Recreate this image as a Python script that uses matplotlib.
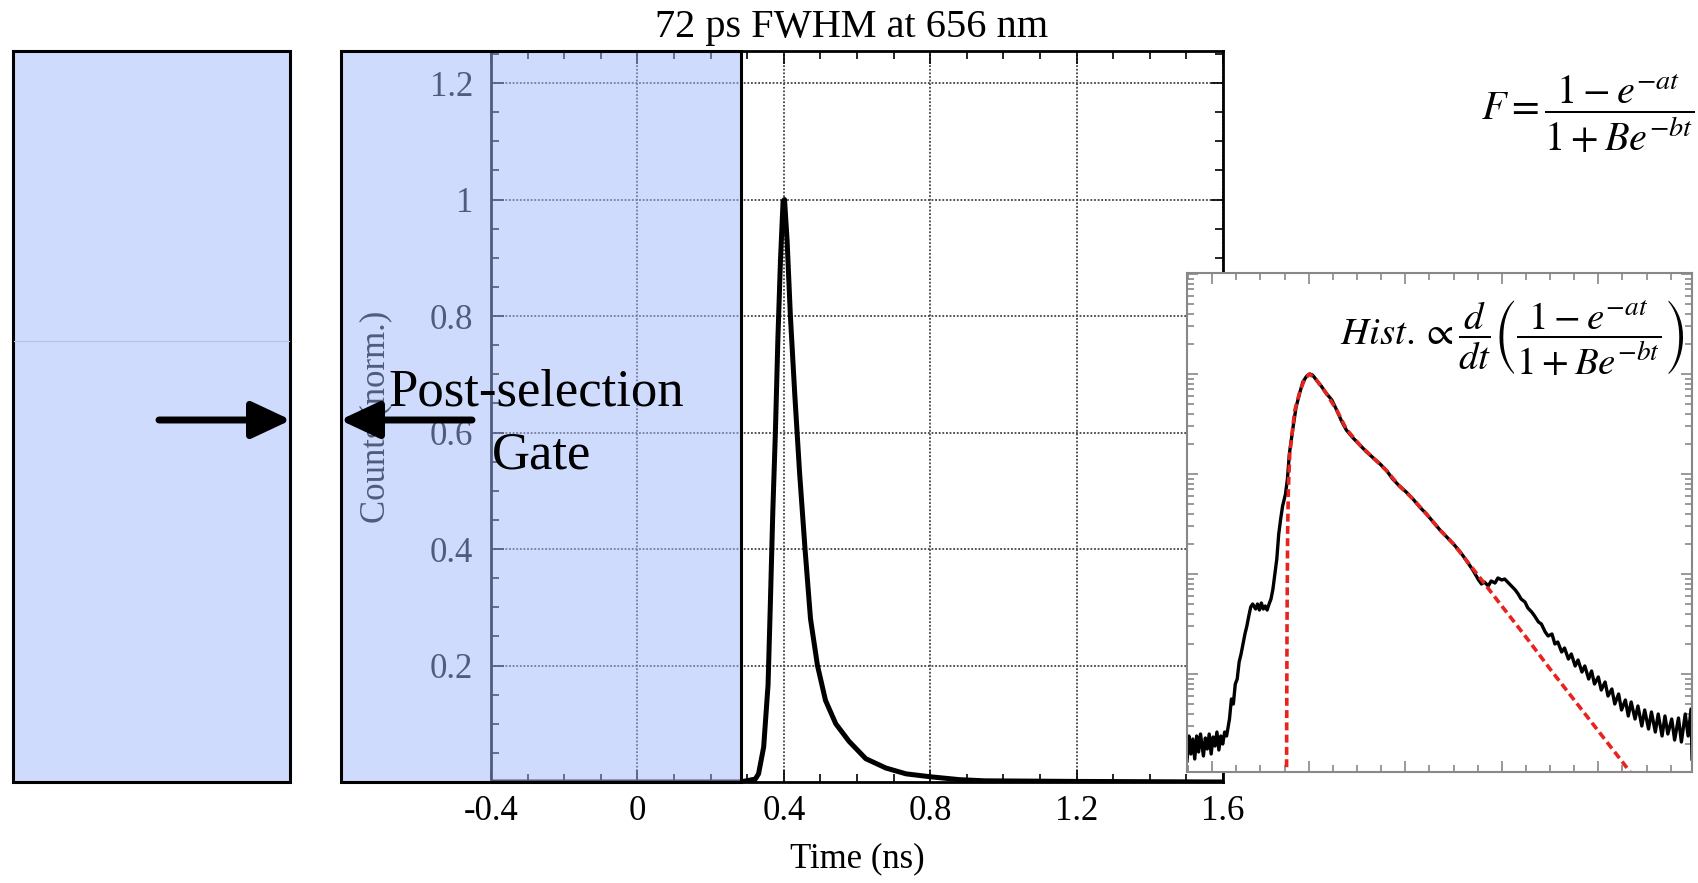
import numpy as np
import matplotlib
matplotlib.use('Agg')
import matplotlib.pyplot as plt
from matplotlib.patches import Rectangle, FancyArrowPatch
from matplotlib.lines import Line2D
from matplotlib.ticker import MultipleLocator, LogLocator, NullFormatter

plt.rcParams['font.family'] = 'serif'
plt.rcParams['font.serif'] = ['Liberation Serif', 'DejaVu Serif']
plt.rcParams['mathtext.fontset'] = 'stix'

# main trace: time (ns) vs normalised counts
main_t = [-0.4, 0.281, 0.322, 0.331, 0.345, 0.357, 0.363, 0.370, 0.377, 0.384,
          0.391, 0.398, 0.402, 0.409, 0.418, 0.430, 0.443, 0.458, 0.473, 0.492,
          0.514, 0.542, 0.578, 0.624, 0.679, 0.734, 0.800, 0.880, 0.950, 1.2, 1.6]
main_y = [0.0, 0.0, 0.005, 0.014, 0.06, 0.167, 0.30, 0.465, 0.60, 0.764,
          0.897, 0.997, 1.0, 0.93, 0.80, 0.665, 0.532, 0.40, 0.28, 0.20,
          0.14, 0.10, 0.07, 0.04, 0.024, 0.014, 0.009, 0.004, 0.002, 0.001, 0.0]

xticks = [-0.4, 0.0, 0.4, 0.8, 1.2, 1.6]
xtick_labels = ['-0.4', '0', '0.4', '0.8', '1.2', '1.6']
yticks = [0.2, 0.4, 0.6, 0.8, 1.0, 1.2]
ytick_labels = ['0.2', '0.4', '0.6', '0.8', '1', '1.2']

gate_start = -0.81
gate_end = 0.283

# inset histogram (time in ps, log10 of counts)
hist_t = [274, 276, 278, 280, 282, 284, 286, 288, 291, 293, 295, 297, 299, 301, 303,
          305, 307, 309, 311, 313, 315,
          318, 320, 322, 324, 326, 328, 330, 332, 334, 336, 338, 340, 342, 345, 347,
          349, 351, 353, 355, 357, 359, 361, 363, 365, 367, 369, 371, 373, 376, 378,
          380, 384, 387, 391, 394, 398, 401,
          404, 408, 413, 418, 424, 429, 434, 439,
          446, 453, 460, 467, 474, 481, 487, 494, 501, 508, 515, 522, 529, 536, 543,
          550, 557, 563, 570,
          576,
          579, 582, 586, 589, 593, 596, 600, 603, 607, 610, 614, 617, 620, 624, 627,
          631, 634, 638, 641, 645, 648, 652, 655, 658, 662, 665, 669, 672, 676, 679,
          683, 686, 690, 693, 696, 700, 703, 707, 710, 714, 717, 721, 724, 728, 731,
          734, 738, 741, 745, 748, 752, 755, 759, 762, 766, 769, 772, 776, 779, 783,
          786, 790, 793,
          796, 797]
hist_log = [-3.87, -3.62, -3.80, -3.65, -3.85, -3.62, -3.78, -3.60, -3.82, -3.64,
            -3.75, -3.60, -3.80, -3.63, -3.72, -3.58, -3.76, -3.62, -3.70, -3.58, -3.62,
            -3.45, -3.25, -3.30, -3.10, -3.05, -2.88, -2.80, -2.70, -2.60, -2.52,
            -2.42, -2.33, -2.30, -2.35, -2.30, -2.36, -2.29, -2.35, -2.32, -2.36,
            -2.30, -2.25, -2.15, -2.00, -1.85, -1.60, -1.45, -1.32, -1.20, -1.05,
            -0.80, -0.52, -0.33, -0.18, -0.08, -0.02, 0.0,
            -0.01, -0.06, -0.12, -0.19, -0.26, -0.36, -0.47, -0.56,
            -0.64, -0.71, -0.78, -0.84, -0.90, -0.97, -1.05, -1.12, -1.18, -1.25,
            -1.33, -1.40, -1.48, -1.56, -1.63, -1.70, -1.78, -1.86, -1.96,
            -2.06,
            -2.10, -2.08, -2.12, -2.07, -2.09, -2.04, -2.06, -2.05, -2.09, -2.12,
            -2.16, -2.20, -2.25, -2.28, -2.34, -2.38, -2.42, -2.48, -2.50, -2.58,
            -2.62, -2.60, -2.70, -2.68, -2.78, -2.74, -2.85, -2.80, -2.92, -2.86,
            -2.98, -2.92, -3.05, -2.97, -3.10, -3.03, -3.16, -3.08, -3.22, -3.15,
            -3.30, -3.20, -3.36, -3.26, -3.42, -3.28, -3.45, -3.32, -3.52, -3.36,
            -3.55, -3.38, -3.58, -3.40, -3.62, -3.42, -3.60, -3.45, -3.66, -3.44,
            -3.68, -3.40, -3.62,
            -3.35, -3.85]

fit_t = [377.0, 377.6, 378.2, 379.0, 380.4, 385.5, 391, 396, 401, 408, 418, 429,
         439, 453, 467, 481, 494, 508, 522, 536, 550, 563, 576, 600, 625, 650,
         675, 700, 725, 736]
fit_log = [-4.3, -2.5, -1.6, -1.15, -0.80, -0.37, -0.17, -0.05, 0.0, -0.06, -0.19,
           -0.36, -0.55, -0.71, -0.84, -0.97, -1.12, -1.25, -1.40, -1.56, -1.70,
           -1.86, -2.02, -2.32, -2.63, -2.95, -3.26, -3.57, -3.88, -4.02]

W, H = 1699, 883
fig = plt.figure(figsize=(W / 100, H / 100), dpi=100)

# left blank panel
fig.add_artist(Rectangle((13 / W, 101 / H), 277 / W, 731 / H, transform=fig.transFigure,
                         facecolor='#cfdbfc', edgecolor='black', lw=2.2, zorder=1))
fig.add_artist(Line2D([14 / W, 289 / W], [542 / H, 542 / H], transform=fig.transFigure,
                      color='#b3c4ee', lw=0.8, zorder=2))

# main axes
ax = fig.add_axes([491 / W, 101 / H, 732 / W, 731 / H])
ax.plot(main_t, main_y, color='black', lw=3.6, zorder=3)
ax.add_patch(Rectangle((gate_start, 0), gate_end - gate_start, 1.255,
                       facecolor=(0.62, 0.72, 0.98, 0.5), edgecolor='black', lw=2.2,
                       clip_on=False, zorder=10))
ax.set_xlim(-0.4, 1.6)
ax.set_ylim(0, 1.255)
ax.set_xticks(xticks)
ax.set_xticklabels(xtick_labels)
ax.set_yticks(yticks)
ax.set_yticklabels(ytick_labels)
ax.xaxis.set_minor_locator(MultipleLocator(0.1))
ax.yaxis.set_minor_locator(MultipleLocator(0.05))
ax.tick_params(which='both', direction='in', top=True, right=True, labelsize=25, width=1.2)
ax.tick_params(which='major', length=9)
ax.tick_params(which='minor', length=6)
ax.tick_params(axis='x', pad=9)
ax.tick_params(axis='y', pad=13)
ax.grid(True, which='major', color='#444444', lw=1.3, ls=(0, (1, 1)))
for s in ax.spines.values():
    s.set_linewidth(2)
ax.set_xlabel('Time (ns)', fontsize=25)
ax.xaxis.set_label_coords(0.5, -0.083)
ax.set_ylabel('Counts (norm.)', fontsize=25)
ax.yaxis.set_label_coords(-0.135, 0.5)

fig.text(852 / W, 1 - 37 / H, '72 ps FWHM at 656 nm', fontsize=29,
         ha='center', va='baseline')

# gate label and arrows
fig.text(388 / W, 1 - 405 / H, 'Post-selection', fontsize=38, ha='left', va='baseline')
fig.text(492 / W, 1 - 468 / H, 'Gate', fontsize=38, ha='left', va='baseline')
for x0, x1 in [(159, 291), (472, 340)]:
    fig.add_artist(FancyArrowPatch((x0 / W, 463 / H), (x1 / W, 463 / H),
                                   transform=fig.transFigure,
                                   arrowstyle='-|>,head_length=1.6,head_width=0.75',
                                   mutation_scale=15, lw=5, color='black',
                                   shrinkA=0, shrinkB=0, zorder=5))

fig.text(1588 / W, 1 - 113 / H, r'$F=\dfrac{1-e^{-at}}{1+Be^{-bt}}$',
         fontsize=29, ha='center', va='center')

# inset: log histogram with fit
axi = fig.add_axes([1187 / W, 111 / H, 505 / W, 499 / H], zorder=20)
axi.plot(hist_t, 10.0 ** np.array(hist_log), color='black', lw=2.4)
axi.plot(fit_t, 10.0 ** np.array(fit_log), color='#e8231e', lw=2.6, ls=(0, (2.2, 1.2)))
axi.set_yscale('log')
axi.set_xlim(274, 797)
axi.set_ylim(10 ** -3.98, 10 ** 1.01)
axi.xaxis.set_major_locator(MultipleLocator(100))
axi.xaxis.set_minor_locator(MultipleLocator(25))
axi.yaxis.set_major_locator(LogLocator(base=10, numticks=10))
axi.yaxis.set_minor_locator(LogLocator(base=10, subs=np.arange(2, 10), numticks=50))
axi.yaxis.set_minor_formatter(NullFormatter())
axi.tick_params(which='both', direction='in', top=True, right=True,
                labelbottom=False, labelleft=False, color='#888888', width=1.2)
axi.tick_params(which='major', length=8)
axi.tick_params(which='minor', length=5)
for s in axi.spines.values():
    s.set_color('#888888')
    s.set_linewidth(1.5)
axi.text(0.985, 0.87, r'$Hist.\propto\dfrac{d}{dt}\left(\dfrac{1-e^{-at}}{1+Be^{-bt}}\right)$',
         transform=axi.transAxes, fontsize=28, ha='right', va='center')

fig.savefig('out.png', dpi=100)
